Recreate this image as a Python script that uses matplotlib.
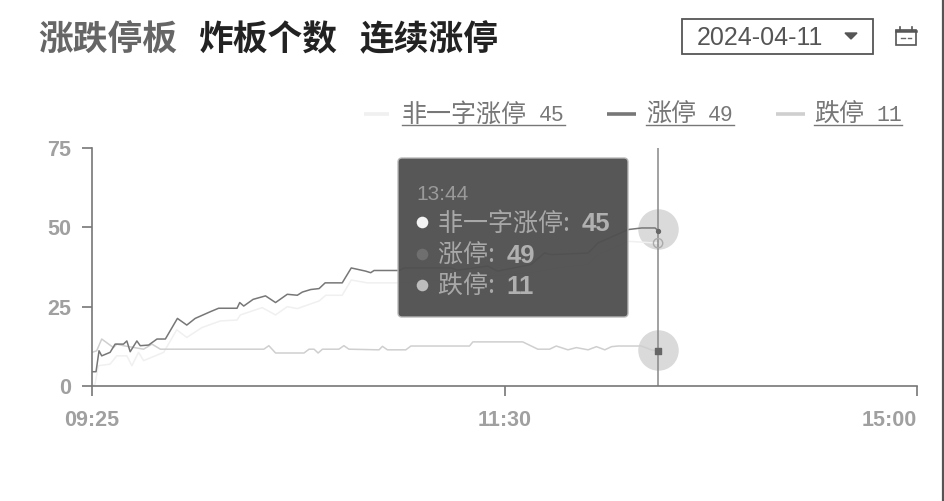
import matplotlib
matplotlib.use('Agg')
import matplotlib.pyplot as plt
from matplotlib.patches import FancyBboxPatch, Rectangle, Polygon

plt.rcParams['font.family'] = ['Noto Sans CJK SC', 'DejaVu Sans']

# minutes since 09:25 on the trading axis
limit_x = [0, 1.2, 2.1, 2.9, 5.4, 6.9, 9.4, 10.4, 11.4, 13.4, 14.4, 16.9, 19.4, 21.9, 25.5, 28.3, 30.8, 35.3,
           37.8, 43.3, 44.1, 45.3, 48.1, 51.8, 54.8, 58.3, 61.3, 62.8, 65.3, 67.8, 69.6, 74.7, 77.4, 81.7,
           83.2, 84.2, 91.7, 93.2, 107.2, 109.2, 118.1, 121.1, 131.1, 135.1, 137.1, 148.1, 151.1, 160.1,
           164.1, 168.1, 169]
limit_y = [4.5, 4.5, 11.1, 9.5, 10.6, 13.2, 13.2, 14.2, 10.8, 14.2, 12.7, 12.9, 14.8, 14.8, 21.3, 19.2, 21.3, 23.4,
           24.5, 24.5, 26.3, 25.2, 27.3, 28.4, 26.3, 28.9, 28.6, 29.6, 30.4, 30.7, 32.5, 32.5, 37.2, 36.2,
           35.7, 36.4, 36.4, 37.2, 37.2, 36.5, 37.8, 36.2, 38.3, 41.9, 41.4, 41.9, 45.1, 49.3,
           49.8, 49.8, 49]

open_x = [0, 0.9, 1.9, 5.4, 7.4, 10.4, 11.9, 13.9, 15.4, 21.4, 25.3, 28.3, 32.8, 38.3, 43.3, 44.3, 50.8, 54.8,
          58.3, 61.3, 67.8, 69.8, 74.7, 77.4, 82.2, 91.7, 107.2, 131.1, 139, 148, 151, 160.1, 169]
open_y = [0, 0.6, 6.4, 6.9, 9.5, 9.5, 6.4, 10.6, 8, 10.6, 17.7, 15.3, 18.4, 20.5, 20.8, 22.4, 24.7, 22.4,
          25, 24.4, 26.8, 28.6, 28.6, 33.4, 32.5, 32.5, 33.6, 35.7, 37.2, 38.3, 41.4, 45.6, 45]

down_x = [0, 1.4, 2.9, 6.4, 7.4, 9.4, 15.4, 17.9, 20.4, 51.3, 52.8, 54.8, 63.3, 64.8, 66.3, 67.5, 68.8, 73.7,
          75.2, 76.7, 85.7, 86.7, 88.2, 93.7, 95.2, 112.7, 113.7, 128.6, 133.1, 136.6, 138.6, 142.1, 144.6,
          148.1, 150.6, 153.1, 155.1, 157.1, 164, 167, 169]
down_y = [10.6, 11.1, 14.8, 12.1, 13.2, 12.7, 11.6, 13.2, 11.6, 11.6, 12.7, 10.4, 10.4, 11.6, 11.6, 10.4, 11.6, 11.6,
          12.7, 11.6, 11.4, 12.5, 11.4, 11.4, 12.6, 12.6, 13.9, 13.9, 11.6, 11.6, 12.6, 11.4, 12.1,
          11.4, 12.4, 11.4, 12.4, 12.6, 12.6, 11.4, 11]

series_names = ['非一字涨停', '涨停', '跌停']
series_latest = [45, 49, 11]
series_colors = ['#f0f0f0', '#777777', '#cfcfcf']
x_ticks = [0, 123.15, 246.3]
x_labels = ['09:25', '11:30', '15:00']
y_ticks = [0, 25, 50, 75]
hover_x = 169
hover_time = '13:44'
date_text = '2024-04-11'

W, H = 945, 501
fig = plt.figure(figsize=(W / 100, H / 100), dpi=100)

ax = fig.add_axes([92 / W, 1 - 386 / H, 825 / W, 238 / H])
ax.set_xlim(0, 246.3)
ax.set_ylim(0, 75)
ax.plot(open_x, open_y, color=series_colors[0], lw=1.1)
ax.plot(down_x, down_y, color=series_colors[2], lw=1.1)
ax.plot(limit_x, limit_y, color=series_colors[1], lw=1.1)
ax.axvline(hover_x, color='#888888', lw=1.1)

# hover halos and points
ax.scatter([hover_x, hover_x], [49.5, 11.3], s=850, color='#d4d4d4', alpha=0.85, lw=0, zorder=1)
ax.scatter([hover_x], [45], s=45, facecolor='none', edgecolor='#aaaaaa', zorder=4)
ax.scatter([hover_x], [49], s=8, color='#666666', zorder=4)
ax.scatter([hover_x], [11], s=14, color='#666666', marker='s', zorder=4)

ax.spines['top'].set_visible(False)
ax.spines['right'].set_visible(False)
for side in ['left', 'bottom']:
    ax.spines[side].set_color('#777777')
    ax.spines[side].set_linewidth(1.2)
ax.set_xticks(x_ticks)
ax.set_xticklabels(x_labels)
ax.set_yticks(y_ticks)
ax.tick_params(axis='both', colors='#777777', width=1.2, length=7, labelsize=15.5, labelcolor='#a0a0a0')
ax.tick_params(axis='x', pad=10)
ax.tick_params(axis='y', pad=8)
for lab in ax.get_xticklabels() + ax.get_yticklabels():
    lab.set_family(['Liberation Sans', 'DejaVu Sans'])
    lab.set_weight('bold')
ax.get_xticklabels()[-1].set_ha('right')

# pixel overlay for the page furniture
top = fig.add_axes([0, 0, 1, 1])
top.set_xlim(0, W)
top.set_ylim(H, 0)
top.axis('off')
top.patch.set_alpha(0)

top.text(38, 40, '涨跌停板', fontsize=25, color='#666666', weight='bold', va='center')
top.text(198, 40, '炸板个数', fontsize=25, color='#222222', weight='bold', va='center')
top.text(360, 40, '连续涨停', fontsize=25, color='#222222', weight='bold', va='center')

top.add_patch(Rectangle((682, 19), 191, 35, fill=False, ec='#555555', lw=1.3))
top.text(697, 38, date_text, fontsize=18, color='#555555', va='center',
         family=['Liberation Sans', 'DejaVu Sans'])
top.add_patch(Polygon([[845, 33], [857, 33], [851, 39]], color='#555555'))
top.add_patch(Rectangle((896, 30), 20, 15, fill=False, ec='#555555', lw=1.2))
top.plot([896, 916], [31, 31], color='#555555', lw=1.8)
top.plot([900, 900], [27, 30], color='#555555', lw=1.2)
top.plot([912, 912], [27, 30], color='#555555', lw=1.2)
top.plot([901, 905], [38, 38], color='#666666', lw=1)
top.plot([908, 911], [38, 38], color='#666666', lw=1)

# legend
legend_line = [(364, 389), (607, 636), (776, 805)]
legend_text = [402, 646, 814]
legend_end = [565, 734, 902]
for i in range(3):
    top.plot(legend_line[i], [114, 114], color=series_colors[i], lw=2.6, solid_capstyle='butt')
    top.text(legend_text[i], 115, series_names[i], fontsize=18, color='#777777', va='center')
    top.text(legend_end[i], 115, str(series_latest[i]), fontsize=15.5, color='#777777', va='center', ha='right',
             family=['Liberation Mono', 'DejaVu Sans'])
    top.plot([legend_text[i], legend_end[i]], [125, 125], color='#777777', lw=1)

# tooltip
top.add_patch(FancyBboxPatch((401, 161), 224, 153, boxstyle='round,pad=3,rounding_size=4',
                             fc='#505050', ec='#b8b8b8', lw=1, alpha=0.96))
top.text(416, 194, hover_time, fontsize=15, color='#9a9a9a', va='center',
         family=['Liberation Sans', 'DejaVu Sans'])
tip_y = [222, 254, 285]
tip_dots = ['#f4f4f4', '#6f6f6f', '#bdbdbd']
for i in range(3):
    top.scatter([422], [tip_y[i]], s=70, color=tip_dots[i], lw=0)
    t = top.text(438, tip_y[i] + 2, series_names[i] + ':  ', fontsize=18, color='#a8a8a8', va='center')
    top.annotate(str(series_latest[i]), xycoords=t, xy=(1, 0.5), va='center', fontsize=18.5, color='#b0b0b0',
                 weight='bold', family=['Liberation Sans', 'DejaVu Sans'])

# right page edge
top.plot([943, 943], [0, H], color='#555555', lw=1.6)

fig.savefig('out.png', dpi=100, facecolor='white')
